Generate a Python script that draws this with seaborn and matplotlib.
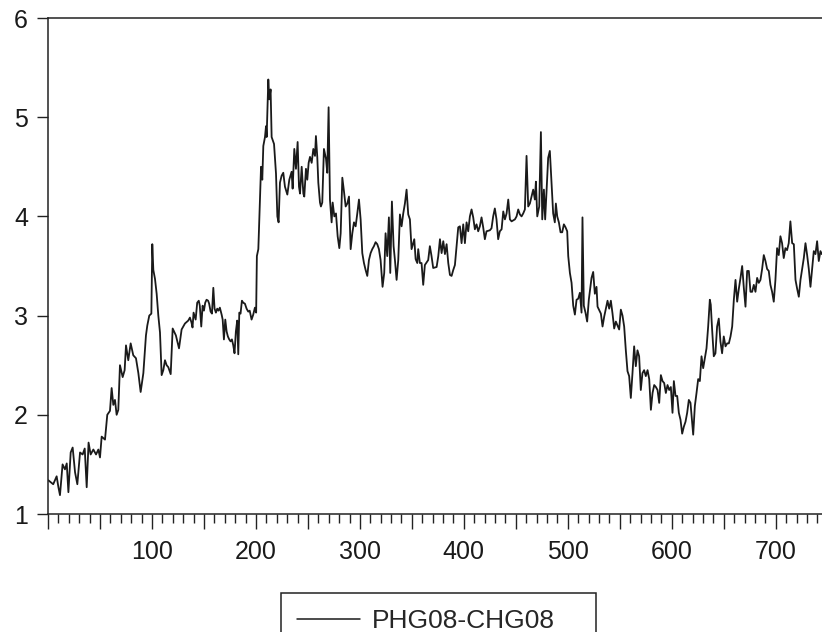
import matplotlib
matplotlib.use("Agg")
import matplotlib.pyplot as plt
from matplotlib.ticker import MultipleLocator, FuncFormatter
import seaborn as sns
import pandas as pd

obs = [0.3, 5, 8.3, 10, 11.5, 14, 16.3, 18, 19.6, 21.8, 23.7, 26, 28.2, 30.8, 33.3, 35.3, 37.2, 39, 41,
       43.6, 46.2, 48.4, 50, 51.6, 54.8, 57, 59.6, 61.2, 62.8, 64.4, 66, 67.6, 69.2, 71.8, 73.7, 75, 77.2,
       79.5, 82, 84.6, 86.9, 89.1, 91.7, 94.2, 95.5, 97.4, 99.4, 100.3, 101.3, 102.9, 104.5, 106.1, 107.7,
       109.3, 110.9, 112.5, 114.1, 115.7, 118, 119.9, 123, 126, 128.5, 131.7, 134.9,
       136.5, 138, 139, 140, 142, 143.5, 145, 146, 147.4, 148.7, 150, 151.2, 152.5, 154, 155, 156.4, 157.7,
       159, 160.2, 161.5, 162.8, 164, 165.3, 167, 168, 169.2, 170.5, 171.8, 173, 174.3, 175.6, 176.9, 178.2,
       179.4, 180.7, 182, 183, 184, 185.2, 186.5, 187.8, 189.4, 191, 192.6, 194, 195.8, 197.4, 199, 200.2,
       200.9, 202.3, 203.9, 204.9, 206.1, 207.1, 208.7, 209.7, 210.3, 211.9, 212.9, 214.1, 215.1, 217.4,
       219.3, 220.6, 221.8, 223.1, 224.7, 226.3, 227.9, 230.2, 232.1, 234.3, 235.3, 236.9, 238.5, 240.1,
       241.4, 242.4, 244, 245.6, 246.5, 248.1, 249.4, 250.7, 252, 253.6, 255.2, 256.8, 257.7, 259, 260,
       261.6, 262.5, 263.8, 265.4, 267.4, 268.6, 269.9, 271.2, 272.8, 273.8, 275.4, 277, 278.6, 280.2,
       281.5, 283.1, 284.7, 286.3, 287.9, 289.5, 291.1, 292.7, 294.3, 295.9, 297.5, 299.1, 300.7, 302.3,
       303.9, 305.5, 307.1, 308.7, 310.3, 311.9, 313.5, 315.1, 316.7, 318.3, 319.9, 321.8, 323.4, 324.7,
       326.3, 327.9, 329.2, 330.8, 332.4, 333.7, 335.3, 336.9,
       338.5, 340.1, 341.7, 343.3, 344.9, 346.5, 348.1, 349.7, 352.3, 353.6, 355.2, 356.1, 357.7, 359.3,
       360.9, 362.5, 365.7, 367.3, 368.9, 370.5, 373.8, 375.4, 377, 378.6, 380.2, 381.8, 383.4, 385, 386.6,
       388.2, 389.8, 391.4, 393, 394.6, 396.2, 397.8, 399.4, 401, 402.6, 404.2, 405.8, 407.4, 409, 410.6,
       412.2, 413.8, 415.4, 417, 418.6, 420.2, 421.8, 425, 426.6, 428.2, 429.8, 431.4, 433, 434.6, 436.3,
       437.9, 439.5, 441.1, 442.7, 444.3, 445.9, 449.1, 450.7, 452.3, 453.9, 455.5, 457.1, 458.7, 460.3,
       461.9, 463.5, 465.1, 466.7, 468.3, 469.3, 470.6, 472.5, 474.1, 475.4, 477, 478.2, 479.5, 481.1,
       482.7, 484.3, 485.9, 487.5, 488.5, 489.8, 491.4, 493, 494.6, 496.2, 497.8, 499.4, 500.4, 502, 503.6,
       505.2, 506.8, 508.4, 510, 511.6, 513.2, 514.1, 515.4, 517, 518.6, 520.2,
       522.8, 524.4, 526, 527.6, 528.6, 531.8, 533.4, 535, 538.2, 539.8, 541.4, 543, 544.6, 546.2, 549.4,
       551, 552.6, 554.2, 555.8, 557.4, 559, 560.6, 562.2, 563.8, 565.4, 567, 568.6, 570.2, 571.8, 573.4,
       575, 576.7, 578.3, 579.9, 581.5, 583.1, 584.7, 586.3, 587.9, 589.5, 591.1, 592.7, 594.3, 595.9,
       597.5, 599.1, 600.7, 602, 603.6, 605.2, 606.8, 608.4, 610, 611.6, 613.2, 614.8, 616.4, 618, 619.6,
       620.6, 622.2, 623.8, 625.4, 627, 628.6, 630.2, 631.8, 633.4, 635, 636.6, 637.5, 638.8, 640.4, 642,
       643.6, 645.2, 646.8, 648.4, 650, 651.7, 653.3, 654.9, 656.5, 658.1, 659.7, 661.3, 662.9, 664.5,
       666.1, 667.7, 669.3, 670.9, 672.5, 674.1, 675.7, 677.3, 678.9, 680.5, 682.1, 683.7, 685.3, 686.9,
       688.5, 690.1, 691.7, 693.3, 694.9, 696.5, 698.1, 699.7, 701.3, 702.9, 704.5, 706.1, 707.7, 709.3,
       710.9, 712.5, 714.1, 715.8, 717.4, 719, 720.6, 722.2, 723.8, 725.4, 727, 728.6, 730.2, 731.8, 733.4,
       735, 736.6, 738.2, 739.8, 741.4, 743, 744.3]

# spread PHG08-CHG08
spread = [1.34, 1.3, 1.38, 1.27, 1.19, 1.5, 1.45, 1.51, 1.22, 1.62, 1.67, 1.42, 1.3, 1.62, 1.6, 1.66, 1.27,
          1.72, 1.6, 1.65, 1.6, 1.65, 1.57, 1.78, 1.75, 2.0, 2.04, 2.27, 2.1, 2.15, 2.0, 2.05, 2.5, 2.38,
          2.45, 2.7, 2.55, 2.72, 2.6, 2.57, 2.42, 2.23, 2.42, 2.8, 2.9, 3.0, 3.02, 3.72, 3.46, 3.37, 3.22,
          3.0, 2.83, 2.4, 2.45, 2.55, 2.5, 2.48, 2.41, 2.87, 2.8, 2.67, 2.86, 2.92, 2.95,
          2.98, 2.93, 2.88, 3.03, 2.96, 3.13, 3.15, 3.1, 2.89, 3.1, 3.05, 3.13, 3.16, 3.15, 3.12, 3.04,
          3.02, 3.28, 3.07, 3.03, 3.07, 3.05, 3.08, 3.01, 2.96, 2.76, 2.96, 2.84, 2.79, 2.76, 2.74, 2.76,
          2.7, 2.62, 2.84, 2.95, 2.61, 3.03, 3.02, 3.15, 3.13, 3.12, 3.07, 3.04, 3.05, 2.96, 3.01, 3.08,
          3.03, 3.6, 3.67, 4.17, 4.5, 4.37, 4.71, 4.8, 4.91, 4.8, 5.38, 5.18, 5.28, 4.8, 4.73, 4.43, 4.0,
          3.94, 4.34, 4.41, 4.44, 4.3, 4.22, 4.37, 4.45, 4.28, 4.68, 4.48, 4.75, 4.3, 4.23, 4.5, 4.23, 4.2,
          4.48, 4.37, 4.54, 4.6, 4.54, 4.68, 4.61, 4.81, 4.6, 4.34, 4.14, 4.1, 4.14, 4.68, 4.58, 4.44, 5.1,
          4.17, 3.94, 4.14, 4.0, 4.03, 3.8, 3.68, 3.83, 4.39, 4.25, 4.1, 4.13, 4.2, 3.67, 3.83, 3.94, 3.9,
          4.03, 4.17, 3.97, 3.63, 3.53, 3.46, 3.4, 3.56, 3.63, 3.67, 3.7, 3.74, 3.72, 3.67, 3.56, 3.29,
          3.43, 3.83, 3.6, 3.99, 3.43, 4.15, 3.7, 3.56, 3.36, 3.56,
          4.02, 3.9, 4.03, 4.13, 4.27, 4.02, 3.97, 3.67, 3.77, 3.57, 3.53, 3.67, 3.53, 3.53, 3.31, 3.51,
          3.56, 3.7, 3.6, 3.48, 3.49, 3.6, 3.77, 3.63, 3.75, 3.62, 3.72, 3.53, 3.41, 3.4, 3.46, 3.51, 3.7,
          3.89, 3.9, 3.73, 3.92, 3.73, 3.94, 3.85, 4.0, 4.07, 3.99, 3.87, 3.92, 3.85, 3.9, 3.99, 3.89, 3.77,
          3.85, 3.86, 3.88, 4.0, 4.08, 3.97, 3.77, 3.85, 3.87, 4.05, 3.97, 4.03, 4.17, 3.97, 3.95, 3.97,
          4.0, 4.07, 4.02, 4.0, 4.03, 4.07, 4.61, 4.1, 4.13, 4.2, 4.27, 4.17, 4.35, 4.0, 4.1, 4.85, 3.97,
          4.27, 3.97, 4.24, 4.59, 4.66, 4.34, 4.03, 3.94, 4.13, 4.0, 3.94, 3.84, 3.84, 3.92, 3.89, 3.85,
          3.6, 3.43, 3.33, 3.1, 3.01, 3.16, 3.17, 3.23, 3.03, 3.99, 3.1, 3.03, 2.94, 3.16,
          3.38, 3.44, 3.22, 3.29, 3.09, 3.02, 2.89, 2.99, 3.15, 3.07, 3.15, 3.02, 2.87, 2.94, 2.86, 3.06,
          3.0, 2.89, 2.65, 2.44, 2.39, 2.17, 2.42, 2.69, 2.49, 2.65, 2.59, 2.25, 2.42, 2.45, 2.39, 2.45,
          2.36, 2.05, 2.22, 2.3, 2.28, 2.25, 2.12, 2.4, 2.34, 2.32, 2.22, 2.3, 2.25, 2.28, 2.02, 2.34, 2.19,
          2.19, 2.02, 1.95, 1.81, 1.88, 1.93, 2.02, 2.15, 2.12, 1.92, 1.8, 2.09, 2.22, 2.36, 2.34, 2.59,
          2.47, 2.57, 2.67, 2.89, 3.16, 3.11, 2.86, 2.59, 2.62, 2.89, 2.97, 2.74, 2.62, 2.79, 2.69, 2.72,
          2.72, 2.79, 2.89, 3.16, 3.36, 3.14, 3.27, 3.38, 3.5, 3.28, 3.09, 3.45, 3.45, 3.24, 3.24, 3.31,
          3.24, 3.38, 3.33, 3.36, 3.47, 3.61, 3.55, 3.47, 3.45, 3.31, 3.24, 3.14, 3.36, 3.68, 3.61, 3.8,
          3.73, 3.58, 3.68, 3.66, 3.73, 3.95, 3.73, 3.72, 3.36, 3.27, 3.19, 3.36, 3.47, 3.58, 3.73, 3.61,
          3.47, 3.29, 3.47, 3.65, 3.62, 3.75, 3.55, 3.65, 3.62]

series_name = "PHG08-CHG08"
x_tick_labels = [100, 200, 300, 400, 500, 600, 700]
y_ticks = [1, 2, 3, 4, 5, 6]

df = pd.DataFrame({"obs": obs, "value": spread, "series": series_name})

sns.set_style("ticks")
plt.rcParams["font.family"] = ["Liberation Sans", "DejaVu Sans"]

fig = plt.figure(figsize=(8.22, 6.32), dpi=100)
ax = fig.add_axes([47.5 / 822, 118 / 632, 1 - 47.5 / 822, (514 - 18) / 632])

sns.lineplot(data=df, x="obs", y="value", hue="series", palette=["#1a1a1a"],
             linewidth=1.3, ax=ax, legend=False, estimator=None, sort=True)

ax.set_xlim(-0.5, 744.5)
ax.set_ylim(1, 6)
ax.set_yticks(y_ticks)
ax.xaxis.set_major_locator(MultipleLocator(50))
ax.xaxis.set_minor_locator(MultipleLocator(10))
ax.xaxis.set_major_formatter(FuncFormatter(
    lambda v, p: str(int(round(v))) if int(round(v)) in x_tick_labels else ""))
ax.set_xlabel("")
ax.set_ylabel("")

for s in ["left", "bottom", "top"]:
    ax.spines[s].set_visible(True)
    ax.spines[s].set_linewidth(1.1)
    ax.spines[s].set_color("#222222")
ax.spines["right"].set_visible(False)

ax.tick_params(axis="x", which="major", length=10.5, width=1.0, pad=8.5, labelsize=18, colors="#222222",
               labelcolor="#1a1a1a")
ax.tick_params(axis="x", which="minor", length=6.5, width=1.0, colors="#222222")
ax.tick_params(axis="y", which="major", length=8, width=1.0, pad=6, labelsize=18, colors="#222222",
               labelcolor="#1a1a1a")

handle = ax.get_lines()[0]
leg = fig.legend([handle], [series_name], loc="upper left",
                 bbox_to_anchor=(281 / 822, 1 - 593 / 632, 315 / 822, 0.0),
                 mode="expand", frameon=True, fancybox=False, framealpha=1,
                 edgecolor="#222222", fontsize=19, handlelength=2.4, handletextpad=0.45,
                 borderpad=0.6, borderaxespad=0)
leg.get_frame().set_linewidth(1.1)
leg.get_lines()[0].set_linewidth(1.1)

fig.savefig("out.png", dpi=100)
